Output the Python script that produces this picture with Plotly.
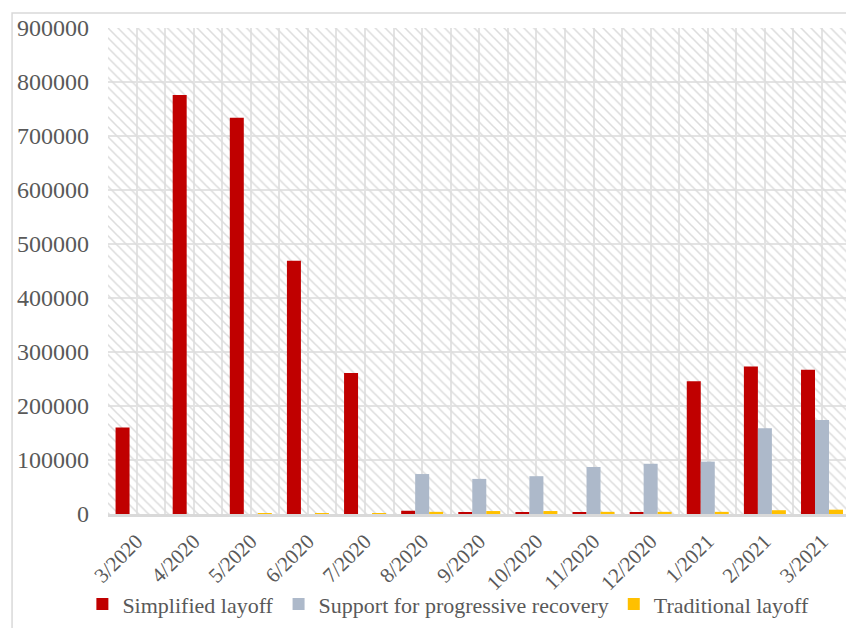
import plotly.graph_objects as go

# Monthly number of beneficiaries by scheme
months = ["3/2020", "4/2020", "5/2020", "6/2020", "7/2020", "8/2020", "9/2020",
          "10/2020", "11/2020", "12/2020", "1/2021", "2/2021", "3/2021"]
simplified_layoff = [160000, 776000, 734000, 469000, 261000, 6000, 3500,
                     2000, 2000, 2000, 246000, 273000, 267000]
progressive_recovery = [0, 0, 0, 0, 0, 74000, 65000,
                        70000, 87000, 93000, 97000, 159000, 174000]
traditional_layoff = [0, 0, 600, 600, 600, 4000, 5500,
                      5500, 4000, 4000, 4000, 7000, 8000]
y_ticks = [0, 100000, 200000, 300000, 400000, 500000, 600000, 700000, 800000, 900000]

FONT = "Liberation Serif"
GREY_TEXT = "#595959"
GRID = "#e3e3e3"

idx = list(range(len(months)))
x_lo, x_hi = -0.5, 12.42
y_top = y_ticks[-1]

fig = go.Figure()

# hatched plot-area background
fig.add_trace(go.Bar(
    x=[(x_lo + x_hi) / 2], y=[y_top], width=[x_hi - x_lo], base=0,
    marker=dict(color="rgba(0,0,0,0)", line=dict(width=0),
                pattern=dict(shape="\\", fgcolor="#dcdcdc", bgcolor="rgba(0,0,0,0)",
                             size=7, solidity=0.22, fillmode="replace")),
    showlegend=False, hoverinfo="skip",
))

series = [
    ("Simplified layoff", simplified_layoff, "#C00000", -0.3675),
    ("Support for progressive recovery", progressive_recovery, "#ADB9CA", -0.1225),
    ("Traditional layoff", traditional_layoff, "#FFC000", 0.1225),
]
for name, vals, color, off in series:
    fig.add_trace(go.Bar(
        x=idx, y=vals, name=name, width=0.245, offset=off,
        marker=dict(color=color, line=dict(width=0)),
    ))

half_steps = [i / 2 - 0.5 for i in range(0, 27)]

fig.update_layout(
    width=846, height=628,
    margin=dict(l=108, r=0, t=28, b=114, autoexpand=False),
    paper_bgcolor="white", plot_bgcolor="white",
    barmode="overlay",
    font=dict(family=FONT, color=GREY_TEXT),
    xaxis=dict(
        range=[x_lo, x_hi], tickmode="array", tickvals=idx, ticktext=months,
        tickangle=-45, tickfont=dict(size=21, color=GREY_TEXT, family=FONT),
        showgrid=True, gridcolor=GRID, gridwidth=1.5,
        minor=dict(tickmode="array", tickvals=[v for v in half_steps if v not in idx],
                   showgrid=True, gridcolor=GRID, gridwidth=1.5, ticks=""),
        showline=True, linecolor="#d9d9d9", linewidth=2.5,
        ticks="", zeroline=False, ticklabelstandoff=4,
    ),
    yaxis=dict(
        range=[0, y_top], tickmode="array", tickvals=y_ticks,
        ticktext=[str(v) for v in y_ticks],
        tickfont=dict(size=24, color=GREY_TEXT, family=FONT),
        showgrid=True, gridcolor=GRID, gridwidth=1.5,
        zeroline=False, ticks="", ticklabelstandoff=18,
    ),
    legend=dict(
        orientation="h", xref="container", yref="container",
        x=0.53, xanchor="center", y=0.038, yanchor="middle",
        font=dict(size=22, color=GREY_TEXT, family=FONT),
        itemwidth=30, bgcolor="rgba(0,0,0,0)",
    ),
    shapes=[dict(
        type="rect", xref="paper", yref="paper",
        x0=-0.13, x1=1.05, y0=-0.4, y1=1.031,
        line=dict(color="#d9d9d9", width=1.5), fillcolor="rgba(0,0,0,0)",
        layer="below",
    )],
)

fig.write_html("out.html")
